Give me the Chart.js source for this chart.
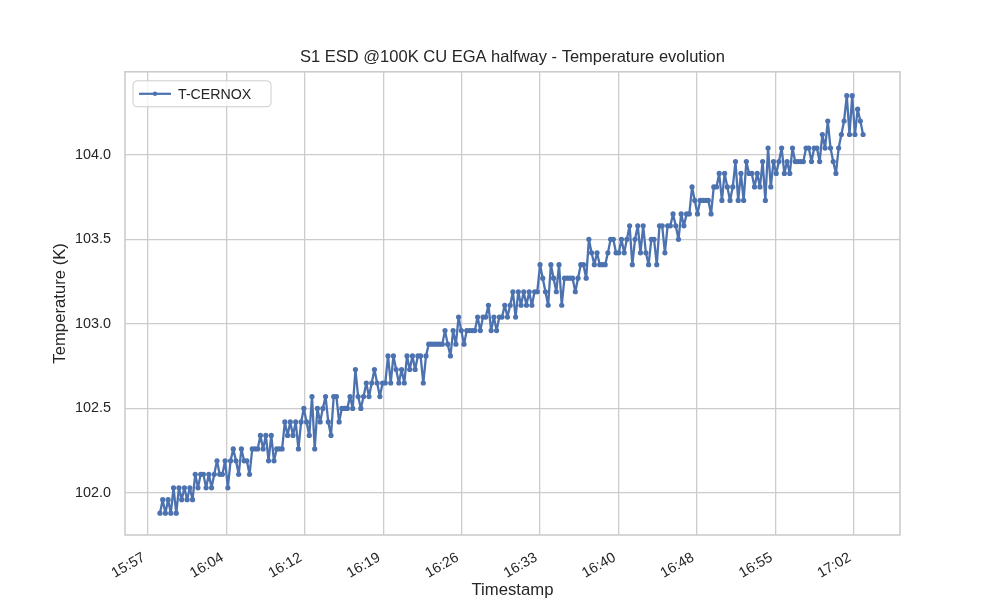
<!DOCTYPE html>
<html>
<head>
<meta charset="utf-8">
<script src="https://cdn.jsdelivr.net/npm/chart.js@4.4.1/dist/chart.umd.min.js"></script>
<style>
  html, body { margin: 0; padding: 0; background: #fff; }
  #wrap { width: 1000px; height: 600px; }
</style>
</head>
<body>
<div id="wrap"><canvas id="tempChart" width="1000" height="600"></canvas></div>
<script>
// x tick labels (every ~7.2 min, starting 15:57)
var tickLabels = ["15:57", "16:04", "16:12", "16:19", "16:26", "16:33", "16:40", "16:48", "16:55", "17:02"];
var tickStepMin = 65 / 9;
var yTicks = [102.0, 102.5, 103.0, 103.5, 104.0];

// sensor sampled every 15 s, first sample ~15:58:06
var sampleStartMin = 1.1;
var sampleStepMin = 0.25;

// T-CERNOX readings (K)
var tCernox = [
  101.88,101.96,101.88,101.96,101.88,102.03,101.88,102.03,101.96,102.03,101.96,102.03,
  101.96,
  102.11,102.03,102.11,102.11,102.03,102.11,102.03,102.11,
  102.19,
  102.11,102.11,102.19,102.03,
  102.19,102.26,102.19,102.11,102.26,102.19,102.19,102.11,
  102.26,102.26,102.26,102.34,102.26,
  102.34,102.19,102.34,102.19,
  102.26,102.26,102.26,
  102.42,
  102.34,102.42,102.34,102.42,102.26,102.42,
  102.50,102.42,102.34,102.57,102.26,102.50,102.42,102.50,102.57,102.42,102.34,102.57,102.57,102.42,
  102.50,102.50,102.50,
  102.57,102.50,102.73,102.57,102.50,
  102.57,102.65,102.57,102.65,102.73,102.65,102.57,102.65,102.65,
  102.81,102.65,102.81,102.73,102.65,102.73,102.65,102.81,102.73,102.81,102.73,102.81,102.81,
  102.65,
  102.81,
  102.88,102.88,102.88,102.88,102.88,102.88,102.96,102.88,102.81,
  102.96,102.88,103.04,102.96,102.88,102.96,
  102.96,102.96,102.96,
  103.04,102.96,103.04,103.04,103.11,102.96,103.04,102.96,103.04,103.04,
  103.11,103.04,103.11,103.19,103.04,
  103.19,103.11,103.19,103.11,103.19,103.11,103.19,103.19,
  103.35,
  103.27,103.19,103.11,103.35,103.27,103.19,103.35,103.11,103.27,
  103.27,103.27,103.27,103.19,103.27,
  103.35,103.35,103.27,103.50,
  103.42,103.35,103.42,
  103.35,103.35,103.35,103.42,
  103.50,103.50,103.42,103.42,103.50,
  103.42,103.50,103.58,
  103.35,
  103.50,103.58,103.42,103.58,103.42,103.35,103.50,103.50,
  103.35,103.58,103.58,103.42,
  103.58,103.58,103.65,
  103.58,103.50,
  103.65,103.58,103.65,103.65,
  103.81,103.73,103.65,103.73,103.73,103.73,103.73,103.65,103.81,
  103.81,103.89,103.73,103.89,103.81,103.73,103.81,103.96,103.73,103.89,
  103.73,103.96,103.89,
  103.89,103.81,103.89,103.81,103.96,
  103.73,
  104.04,
  103.81,
  103.96,103.89,103.96,
  104.04,
  103.89,103.96,103.89,
  104.04,
  103.96,103.96,103.96,103.96,
  104.04,104.04,103.96,104.04,104.04,
  103.96,104.12,104.04,104.20,
  104.04,103.96,103.89,104.04,
  104.12,104.20,
  104.35,104.12,104.35,
  104.12,104.27,104.20,104.12
];

var lineColor = '#4c72b0';
var textColor = '#262626';
var gridColor = '#cccccc';
var fontFamily = '"Liberation Sans", Arial, "DejaVu Sans", sans-serif';

var points = tCernox.map(function (t, i) {
    return { x: sampleStartMin + i * sampleStepMin, y: t };
});

// spines on all four sides + legend inside the axes, matplotlib style
var framePlugin = {
    id: 'frame',
    afterDatasetsDraw: function (chart) {
        var ctx = chart.ctx;
        var a = chart.chartArea;
        ctx.save();
        ctx.strokeStyle = gridColor;
        ctx.lineWidth = 1.6;
        ctx.strokeRect(a.left, a.top, a.right - a.left, a.bottom - a.top);

        // legend box
        var bx = a.left + 8, by = a.top + 9, bw = 138, bh = 26;
        ctx.beginPath();
        ctx.roundRect(bx, by, bw, bh, 4);
        ctx.fillStyle = 'rgba(255,255,255,0.8)';
        ctx.fill();
        ctx.lineWidth = 1;
        ctx.strokeStyle = gridColor;
        ctx.stroke();

        var ly = by + bh / 2;
        ctx.beginPath();
        ctx.moveTo(bx + 6, ly);
        ctx.lineTo(bx + 38, ly);
        ctx.strokeStyle = lineColor;
        ctx.lineWidth = 2.2;
        ctx.stroke();
        ctx.beginPath();
        ctx.arc(bx + 22, ly, 2.2, 0, Math.PI * 2);
        ctx.fillStyle = lineColor;
        ctx.fill();

        ctx.fillStyle = textColor;
        ctx.font = '14.2px ' + fontFamily;
        ctx.textBaseline = 'middle';
        ctx.textAlign = 'left';
        ctx.fillText(chart.data.datasets[0].label, bx + 45, ly + 1);
        ctx.restore();
    }
};

var tempChart = new Chart(document.getElementById('tempChart'), {
    type: 'line',
    data: {
        datasets: [
            {
                label: 'T-CERNOX',
                data: points,
                borderColor: lineColor,
                backgroundColor: lineColor,
                borderWidth: 2.3,
                borderJoinStyle: 'round',
                borderCapStyle: 'round',
                pointRadius: 2.6,
                pointBorderWidth: 0,
                pointBackgroundColor: lineColor,
                tension: 0,
                fill: false
            }
        ]
    },
    options: {
        responsive: false,
        animation: false,
        devicePixelRatio: 1,
        layout: { padding: { left: 25, right: 0, top: 0, bottom: 0 } },
        plugins: {
            legend: { display: false },
            tooltip: { enabled: false },
            title: {
                display: true,
                text: 'S1 ESD @100K CU EGA halfway - Temperature evolution',
                color: textColor,
                font: { family: fontFamily, size: 16.5, weight: 'normal' },
                padding: { top: 48, bottom: 4 }
            }
        },
        scales: {
            x: {
                type: 'linear',
                min: -2.12,
                max: 69.25,
                afterFit: function (scale) { scale.height = 65; },
                afterBuildTicks: function (scale) {
                    scale.ticks = tickLabels.map(function (l, i) { return { value: i * tickStepMin }; });
                },
                ticks: {
                    color: textColor,
                    font: { family: fontFamily, size: 14.4 },
                    maxRotation: 30,
                    minRotation: 30,
                    padding: 14,
                    labelOffset: -4,
                    autoSkip: false,
                    callback: function (v, i) { return tickLabels[i]; }
                },
                grid: { color: gridColor, lineWidth: 1.3, drawTicks: false },
                border: { display: false },
                title: {
                    display: true,
                    text: 'Timestamp',
                    color: textColor,
                    font: { family: fontFamily, size: 16.7 },
                    padding: { top: 0, bottom: 0 }
                }
            },
            y: {
                min: 101.751,
                max: 104.491,
                afterFit: function (scale) { scale.width = 100; },
                afterBuildTicks: function (scale) {
                    scale.ticks = yTicks.map(function (v) { return { value: v }; });
                },
                ticks: {
                    color: textColor,
                    font: { family: fontFamily, size: 14.4 },
                    padding: 14,
                    callback: function (v) { return v.toFixed(1); }
                },
                grid: { color: gridColor, lineWidth: 1.3, drawTicks: false },
                border: { display: false },
                title: {
                    display: true,
                    text: 'Temperature (K)',
                    color: textColor,
                    font: { family: fontFamily, size: 16.7 },
                    padding: { top: 25, bottom: 0 }
                }
            },
            // empty right margin so the title centres over the axes
            yRight: {
                position: 'right',
                afterFit: function (scale) { scale.width = 100; },
                grid: { display: false },
                ticks: { display: false },
                border: { display: false }
            }
        }
    },
    plugins: [framePlugin]
});
</script>
</body>
</html>
